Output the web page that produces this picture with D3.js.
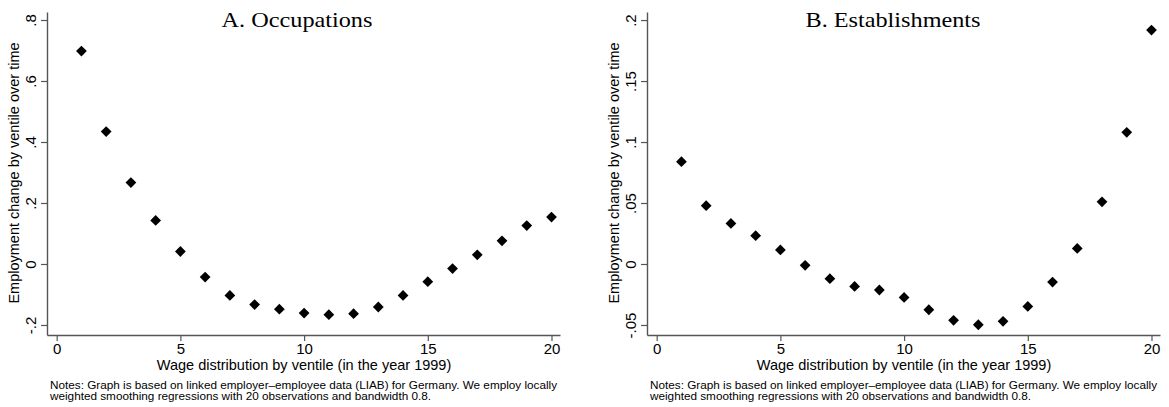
<!DOCTYPE html>
<html><head><meta charset="utf-8">
<script src="https://cdn.jsdelivr.net/npm/d3@7"></script>
<style>
body{margin:0;background:#fff;}
svg{display:block;}
text{font-family:"Liberation Sans",Arial,Helvetica,sans-serif;fill:#000;}
</style></head><body>
<svg id="c" width="1169" height="407"></svg>
<script>
const ventiles = d3.range(1, 21);
const occupations = [0.698,0.434,0.267,0.143,0.041,-0.043,-0.103,-0.133,-0.148,-0.161,-0.166,-0.163,-0.141,-0.103,-0.058,-0.015,0.030,0.076,0.126,0.154];
const establishments = [0.0839,0.0478,0.0333,0.0232,0.0115,-0.0011,-0.0120,-0.0184,-0.0213,-0.0274,-0.0375,-0.0462,-0.0498,-0.0470,-0.0348,-0.0148,0.0128,0.0510,0.1080,0.1918];
const xTicks = [0,5,10,15,20];
const occTicks = [-0.2,0,0.2,0.4,0.6,0.8];
const occTickLabels = ["-.2","0",".2",".4",".6",".8"];
const estTicks = [-0.05,0,0.05,0.1,0.15,0.2];
const estTickLabels = ["-.05","0",".05",".1",".15",".2"];
const titles = ["A. Occupations","B. Establishments"];
const yTitle = "Employment change by ventile over time";
const xTitle = "Wage distribution by ventile (in the year 1999)";
const notes = ["Notes: Graph is based on linked employer\u2013employee data (LIAB) for Germany. We employ locally",
               "weighted smoothing regressions with 20 observations and bandwidth 0.8."];

const svg = d3.select("#c");
const axisCol = "#555";

const panels = [
  {dx:0, values:occupations, ticks:occTicks, labels:occTickLabels, ydom:[-0.2328,0.8262], title:titles[0], tcx:297},
  {dx:600, values:establishments, ticks:estTicks, labels:estTickLabels, ydom:[-0.0582,0.2066], title:titles[1], tcx:293}
];

panels.forEach(p => {
  const g = svg.append("g").attr("transform", `translate(${p.dx},0)`);
  const x = d3.scaleLinear().domain([-0.392, 20.344]).range([47, 560]);
  const y = d3.scaleLinear().domain(p.ydom).range([335, 12]);

  // y axis
  const ya = g.append("g").attr("transform","translate(47,0)")
    .call(d3.axisLeft(y).tickValues(p.ticks).tickFormat((d,i)=>p.labels[i]).tickSize(6).tickSizeOuter(0));
  ya.select(".domain").attr("stroke",axisCol).attr("stroke-width",1.4);
  ya.selectAll(".tick line").attr("stroke",axisCol).attr("stroke-width",1.2);
  ya.selectAll(".tick text").attr("x",null).attr("dy",null)
    .attr("text-anchor","middle").attr("transform","translate(-11,0) rotate(-90)")
    .style("font-size","15px").style("font-family",'"Liberation Sans",Arial,sans-serif');

  // x axis
  const xa = g.append("g").attr("transform","translate(0,335)")
    .call(d3.axisBottom(x).tickValues(xTicks).tickFormat(d3.format("d")).tickSize(6).tickSizeOuter(0));
  xa.select(".domain").attr("stroke",axisCol).attr("stroke-width",1.4);
  xa.selectAll(".tick text").attr("dy","0.68em");
  xa.selectAll(".tick line").attr("stroke",axisCol).attr("stroke-width",1.2);
  xa.selectAll(".tick text").style("font-size","15px").style("font-family",'"Liberation Sans",Arial,sans-serif');

  // points
  const sym = d3.symbol(d3.symbolSquare, 58);
  g.append("g").selectAll("path").data(p.values).join("path")
    .attr("d", sym)
    .attr("transform",(d,i)=>`translate(${x(ventiles[i])},${y(d)}) rotate(45)`)
    .attr("fill","#000");

  // titles
  g.append("text").attr("transform",`translate(${p.tcx},26.5) scale(1.155,1)`)
    .attr("text-anchor","middle")
    .style("font-family",'"Liberation Serif","Times New Roman",serif').style("font-size","21px")
    .text(p.title);

  g.append("text").attr("transform","translate(19,173) rotate(-90)")
    .attr("text-anchor","middle").style("font-size","14.5px").text(yTitle);

  g.append("text").attr("x",304).attr("y",370)
    .attr("text-anchor","middle").style("font-size","14.5px").text(xTitle);

  notes.forEach((n,i)=>{
    g.append("text").attr("transform",`translate(50,${388.5 + i*11.5}) scale(1.12,1)`)
      .style("font-size","10.5px").text(n);
  });
});
</script>
</body></html>
